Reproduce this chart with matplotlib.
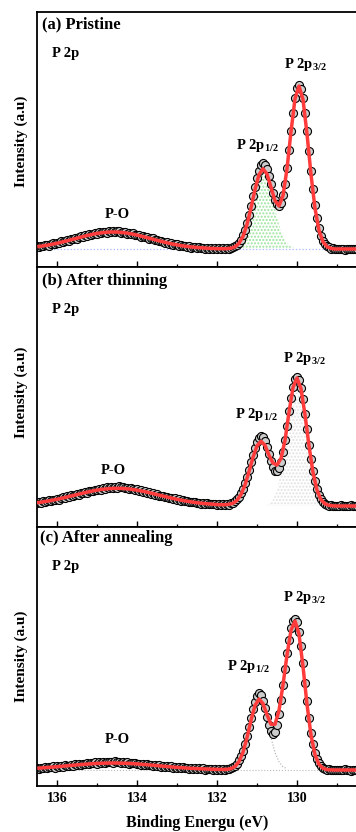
import numpy as np
import matplotlib
matplotlib.use('Agg')
import matplotlib.pyplot as plt
from matplotlib.ticker import MultipleLocator

plt.rcParams['font.family'] = ['Liberation Serif', 'DejaVu Serif']
plt.rcParams['font.weight'] = 'bold'
plt.rcParams['mathtext.fontset'] = 'custom'
plt.rcParams['mathtext.rm'] = 'Liberation Serif:bold'
plt.rcParams['mathtext.bf'] = 'Liberation Serif:bold'

# binding energy grid of the measured spectra, 0.05 eV step
energy = np.linspace(136.5, 128.5, 161)

# (a) pristine - measured points
data_a = [20.7, 20.1, 21.4, 20.9, 21.7, 22.5, 21.5, 22.7, 23.7, 22.8, 24.1, 23.9, 25.6, 24.8, 26.0, 27.0,
          26.0, 27.8, 27.6, 29.0, 28.2, 29.8, 30.8, 30.0, 31.6, 31.2, 32.7, 31.8, 33.3, 34.2, 33.2, 34.6,
          33.9, 35.3, 35.0, 34.3, 36.0, 35.3, 36.2, 34.6, 35.7, 36.1, 34.4, 35.3, 35.4, 33.4, 34.3, 33.4,
          33.7, 31.9, 32.5, 31.6, 30.4, 31.2, 29.6, 29.9, 28.1, 28.7, 28.6, 26.8, 27.0, 25.8, 26.4, 25.4,
          24.1, 24.8, 23.5, 23.8, 22.3, 22.9, 22.8, 21.3, 21.7, 20.7, 21.4, 20.3, 20.8, 19.5, 20.3, 19.9,
          19.0, 20.0, 18.9, 19.5, 18.4, 19.3, 18.5, 19.2, 18.1, 18.8, 17.9, 18.9, 18.0, 18.7, 17.8, 18.7,
          18.3, 19.3, 19.6, 20.7, 22.2, 24.4, 27.5, 31.8, 37.3, 44.0, 52.3, 61.3, 70.8, 80.5, 89.2, 96.3,
          101.6, 103.7, 102.4, 97.9, 90.9, 82.8, 74.5, 67.3, 62.6, 60.6, 64.4, 72.3, 83.3, 99.2, 116.8,
          136.3, 153.8, 169.2, 179.4, 182.0, 178.5, 169.0, 154.1, 135.7, 115.8, 96.1, 77.8, 61.7, 48.6,
          38.6, 31.3, 26.2, 23.0, 20.8, 19.6, 18.4, 18.7, 18.3, 17.6, 18.5, 17.8, 18.4, 17.5, 18.3, 17.7,
          18.5, 17.6, 18.2, 17.7]
# (a) fitted envelope, every second energy starting at 136.45
fit_a = [20.55, 21.1, 21.75, 22.5, 23.3, 24.2, 25.2, 26.2, 27.25, 28.3, 29.35, 30.45, 31.45, 32.35,
         33.2, 33.9, 34.4, 34.8, 35.0, 35.0, 34.8, 34.4, 33.9, 33.2, 32.35, 31.45, 30.45, 29.35, 28.3,
         27.25, 26.2, 25.2, 24.2, 23.3, 22.5, 21.75, 21.1, 20.55, 20.1, 19.7, 19.35, 19.05, 18.8, 18.6,
         18.45, 18.35, 18.25, 18.4, 18.8, 20.2, 23.6, 30.6, 42.5, 59.1, 77.5, 92.3, 98.2, 92.9, 79.8,
         66.3, 61.1, 71.3, 98.2, 135.3, 168.2, 181.0, 167.5, 133.2, 92.6, 58.7, 36.6, 25.2, 20.3, 18.6,
         18.0, 18.0, 18.0, 18.0, 18.0, 18.0]
# (a) P 2p1/2 component
comp_a = [18.7, 20.1, 23.6, 30.6, 42.5, 59.1, 77.5, 92.3, 98.0, 92.3, 77.5, 59.1, 42.5, 30.6, 23.6,
          20.1, 18.7]

# (b) after thinning
data_b = [23.7, 25.1, 24.5, 25.8, 25.1, 26.2, 26.9, 26.0, 27.5, 27.1, 28.5, 27.5, 29.1, 29.9, 29.1, 30.6,
          30.2, 31.7, 30.9, 32.5, 32.6, 32.3, 34.3, 33.7, 35.1, 34.4, 36.3, 35.9, 35.6, 37.4, 37.2, 38.4,
          37.2, 38.8, 38.5, 39.6, 38.6, 40.0, 39.4, 40.5, 39.3, 40.9, 39.6, 40.1, 38.8, 39.5, 37.8, 38.7,
          37.8, 36.7, 37.7, 36.1, 36.7, 35.1, 35.6, 34.1, 34.9, 33.1, 33.6, 32.3, 32.8, 30.9, 31.1, 31.3,
          29.7, 30.2, 28.9, 29.5, 28.2, 28.7, 27.4, 27.8, 26.3, 26.8, 25.7, 26.4, 25.0, 25.5, 24.6, 25.2,
          23.8, 24.4, 23.4, 24.1, 23.1, 23.6, 22.6, 23.3, 22.6, 23.1, 22.1, 22.7, 22.0, 22.8, 22.1, 22.85,
          22.4, 23.65, 24.4, 25.75, 27.7, 30.15, 33.6, 38.0, 43.55, 49.8, 57.1, 64.6, 71.9, 78.85, 84.65,
          88.95, 90.65, 89.7, 85.7, 79.7, 72.7, 65.8, 60.0, 56.4, 56.3, 59.2, 65.3, 74.8, 87.1, 100.8,
          115.8, 129.4, 140.5, 148.2, 150.5, 147.4, 139.3, 127.7, 113.4, 97.7, 82.2, 67.9, 55.6, 45.6,
          37.7, 31.8, 27.8, 25.3, 23.5, 22.5, 21.3, 21.7, 20.85, 21.5, 20.8, 21.4, 21.9, 20.7, 21.5, 21.2,
          20.6, 21.6, 20.8, 21.4, 20.7]
# (b) fitted envelope, every second energy starting at 136.5
fit_b = [24.3, 24.8, 25.5, 26.1, 26.9, 27.7, 28.6, 29.5, 30.5, 31.4, 32.4, 33.4, 34.4, 35.3, 36.1, 36.9,
         37.5, 38.0, 38.4, 38.6, 38.7, 38.6, 38.4, 38.0, 37.5, 36.9, 36.1, 35.3, 34.4, 33.4, 32.4, 31.4,
         30.5, 29.5, 28.6, 27.7, 26.9, 26.1, 25.5, 24.8, 24.3, 23.8, 23.4, 23.1, 22.8, 22.5, 22.3, 22.3,
         22.7, 23.8, 26.7, 32.4, 42.05, 55.3, 69.7, 81.15, 85.65, 81.7, 71.7, 64.0, 62.0, 68.5, 86.6,
         114.8, 139.5, 149.0, 138.3, 112.4, 81.2, 54.6, 36.9, 27.3, 23.1, 21.6, 21.15, 21.0, 21.0, 21.0,
         21.0, 21.0, 21.0]
# (b) P 2p3/2 component
comp_b = [21.6, 23.1, 27.3, 36.9, 54.6, 81.2, 112.4, 138.3, 148.5, 138.3, 112.4, 81.2, 54.6, 36.9, 27.3,
          23.1, 21.6]

# (c) after annealing
data_c = [18.3, 17.3, 18.5, 17.9, 19.1, 18.0, 19.2, 18.6, 19.7, 18.5, 19.8, 19.2, 20.5, 19.3, 20.6, 20.3,
          19.8, 21.3, 20.4, 21.7, 20.8, 22.2, 21.0, 22.3, 22.0, 22.9, 21.7, 23.1, 22.65, 23.6, 22.4, 23.9,
          23.3, 24.1, 23.1, 24.3, 23.6, 24.5, 23.4, 24.6, 23.8, 24.4, 23.2, 24.0, 23.3, 23.8, 22.5, 23.4,
          22.55, 23.0, 21.7, 22.5, 21.5, 22.3, 21.0, 21.8, 20.7, 21.5, 20.2, 21.0, 20.1, 20.9, 19.5, 20.3,
          19.1, 19.9, 19.0, 19.7, 18.5, 19.2, 18.2, 19.1, 17.8, 18.6, 17.8, 18.5, 17.3, 18.2, 17.3, 18.1,
          16.9, 17.7, 16.8, 17.7, 16.5, 17.4, 16.6, 17.4, 16.3, 17.2, 16.3, 17.2, 16.3, 17.0, 16.1, 17.2,
          16.7, 17.9, 18.8, 20.3, 22.35, 25.55, 29.8, 35.2, 42.4, 50.3, 59.35, 68.15, 76.85, 84.1, 90.06,
          92.9, 90.9, 85.5, 77.8, 68.8, 60.7, 54.7, 52.1, 53.7, 60.7, 72.4, 85.9, 101.5, 117.05, 132.6,
          146.2, 157.7, 165.1, 167.0, 163.6, 154.5, 140.4, 122.6, 103.4, 84.7, 67.9, 53.3, 41.6, 32.8,
          26.7, 22.6, 19.8, 18.1, 17.4, 16.2, 16.7, 15.8, 16.4, 15.7, 16.5, 15.8, 16.4, 15.6, 16.6, 15.7,
          16.3, 15.5, 16.4, 15.8, 16.3]
# (c) fitted envelope, every second energy starting at 136.45
fit_c = [17.9, 18.2, 18.5, 18.8, 19.1, 19.5, 19.8, 20.2, 20.6, 20.9, 21.3, 21.6, 21.9, 22.2, 22.5, 22.7,
         22.8, 22.9, 23.0, 23.0, 22.9, 22.8, 22.7, 22.5, 22.2, 21.9, 21.6, 21.3, 20.9, 20.6, 20.2, 19.8,
         19.5, 19.1, 18.8, 18.5, 18.2, 17.9, 17.7, 17.5, 17.3, 17.1, 17.0, 16.8, 16.7, 16.6, 16.5, 16.7,
         17.4, 19.5, 24.35, 33.7, 48.3, 65.65, 80.6, 86.9, 82.5, 71.3, 61.7, 61.7, 75.4, 101.0, 131.1,
         155.7, 165.0, 152.0, 119.6, 81.7, 50.8, 31.3, 21.6, 17.7, 16.4, 16.1, 16.0, 16.0, 16.0, 16.0,
         16.0, 16.0]
# (c) P 2p1/2 component
comp_c = [17.2, 19.3, 24.2, 33.6, 48.2, 65.6, 80.4, 86.2, 80.4, 65.6, 48.2, 33.6, 24.2, 19.3, 17.2]

baselines = [18.0, 21.0, 16.2]
titles = ['(a) Pristine', '(b) After thinning', '(c) After annealing']

fig = plt.figure(figsize=(3.56, 8.32), dpi=100)
left = 37 / 356
width = 321 / 356
# bottom, height in figure fraction
boxes = [(565 / 832, 255 / 832), (305 / 832, 260 / 832), (46 / 832, 259 / 832)]
ylims = [255, 260, 259]

panels = [
    dict(data=data_a, fit=fit_a, fit_e=energy[1::2], comp=comp_a, comp_e=energy[97:130:2], kind='green'),
    dict(data=data_b, fit=fit_b, fit_e=energy[::2], comp=comp_b, comp_e=energy[114:147:2], kind='gray'),
    dict(data=data_c, fit=fit_c, fit_e=energy[1::2], comp=comp_c, comp_e=energy[97:126:2], kind='line'),
]

# label positions (axes fraction): title, P 2p, 3/2, 1/2, P-O
lab_pos = [
    [(0.016, 0.953), (0.047, 0.839), (0.766, 0.796), (0.617, 0.478), (0.209, 0.204)],
    [(0.016, 0.946), (0.047, 0.837), (0.763, 0.649), (0.614, 0.431), (0.196, 0.219)],
    [(0.010, 0.958), (0.047, 0.849), (0.763, 0.729), (0.589, 0.461), (0.209, 0.180)],
]
ylab_y = [0.8297, 0.528, 0.211]

axes = []
for n, p in enumerate(panels):
    b, h = boxes[n]
    ax = fig.add_axes([left, b, width + 2 / 356, h])
    axes.append(ax)
    base = baselines[n]
    if p['kind'] == 'green':
        ax.axhline(base, color='#a8b8ff', lw=0.9, ls=':', zorder=1)
        ax.fill_between(p['comp_e'], base, p['comp'], facecolor='none', edgecolor='#9be39b',
                        hatch='.....', linewidth=0, zorder=1)
    elif p['kind'] == 'gray':
        ax.fill_between(p['comp_e'], base, p['comp'], facecolor='none', edgecolor='#e2e2e2',
                        hatch='.....', linewidth=0, zorder=1)
    else:
        ax.axhline(base, color='#bbbbbb', lw=0.8, ls=':', zorder=1)
        ax.plot(p['comp_e'], p['comp'], color='#aaaaaa', lw=0.8, ls=':', zorder=1)
    ax.plot(energy, p['data'], 'o', ms=5.8, mfc='#cccccc', mec='black', mew=0.8, zorder=2)
    ax.plot(p['fit_e'], p['fit'], color='#ff3b3b', lw=2.5, zorder=3)

    ax.set_xlim(136.5, 136.5 - 323 / 40)
    ax.set_ylim(0, ylims[n])
    ax.set_yticks([])
    ax.xaxis.set_major_locator(MultipleLocator(2))
    ax.xaxis.set_minor_locator(MultipleLocator(1))
    ax.tick_params(axis='x', which='major', direction='in', length=4, width=1.0,
                   labelsize=10, pad=4, top=False)
    ax.tick_params(axis='x', which='minor', direction='in', length=2.5, width=0.9, top=False)
    if n < 2:
        ax.tick_params(axis='x', labelbottom=False)
    for s in ax.spines.values():
        s.set_linewidth(1.3)

    pos = lab_pos[n]
    ax.text(pos[0][0], pos[0][1], titles[n], transform=ax.transAxes, fontsize=12,
            fontweight='bold', va='center', ha='left')
    ax.text(pos[1][0], pos[1][1], 'P 2p', transform=ax.transAxes, fontsize=10.5,
            fontweight='bold', va='center', ha='left')
    ax.text(pos[2][0], pos[2][1], r'P 2p$_{\mathrm{3/2}}$', transform=ax.transAxes, fontsize=10.5,
            fontweight='bold', va='center', ha='left')
    ax.text(pos[3][0], pos[3][1], r'P 2p$_{\mathrm{1/2}}$', transform=ax.transAxes, fontsize=10.5,
            fontweight='bold', va='center', ha='left')
    ax.text(pos[4][0], pos[4][1], 'P-O', transform=ax.transAxes, fontsize=10.5,
            fontweight='bold', va='center', ha='left')
    fig.text(0.061, ylab_y[n], 'Intensity (a.u)', rotation=90, fontsize=11,
             fontweight='bold', va='center', ha='center')

for lab in axes[2].get_xticklabels():
    lab.set_fontweight('bold')

fig.text(0.553, 0.0108, 'Binding Energu (eV)', fontsize=11.5, fontweight='bold',
         va='center', ha='center')

fig.savefig('out.png', dpi=100)
